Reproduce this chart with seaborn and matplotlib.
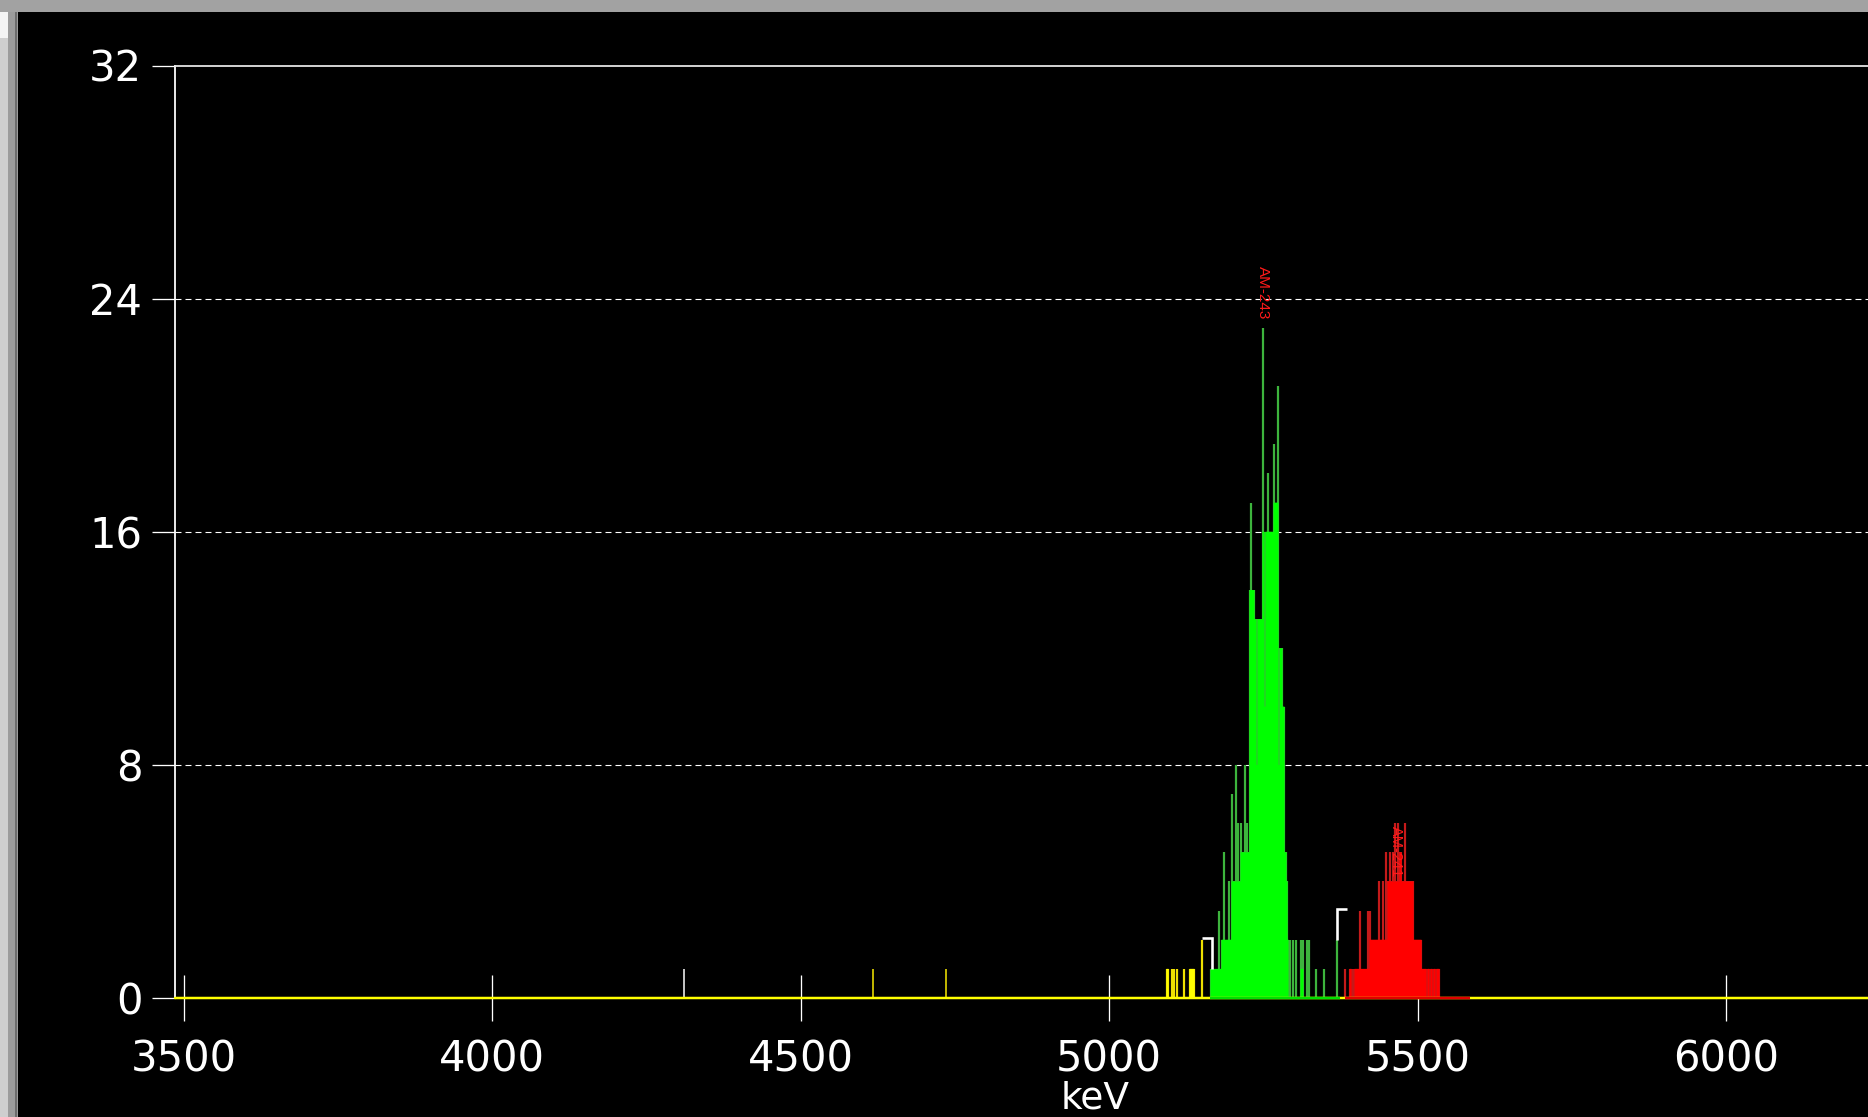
import numpy as np
import pandas as pd
import matplotlib
matplotlib.use("Agg")
import matplotlib.pyplot as plt
from matplotlib.patches import Rectangle
import seaborn as sns

# ---------------- data ----------------
spectrum_start_kev = 5090.5      # energy of first listed channel
kev_per_channel = 1.6205         # channel width
channel_counts = [
    0, 0, 1, 1, 0, 0, 0, 1, 0, 1, 0, 0, 1, 0, 0, 0, 0, 0, 0, 1,
    0, 0, 0, 0, 0, 1, 1, 1, 1, 1, 0, 0, 0, 0, 0, 0, 0, 2, 0, 0,
    0, 0, 0, 0, 0, 0, 1, 1, 1, 1, 1, 1, 1, 1, 3, 1, 1, 2, 2, 5,
    2, 2, 2, 2, 4, 2, 2, 7, 4, 4, 4, 8, 4, 6, 4, 4, 6, 5, 5, 5,
    8, 5, 6, 5, 5, 14, 17, 14, 14, 14, 13, 13, 8, 13, 13, 13, 13, 13, 23, 16,
    10, 16, 16, 18, 16, 16, 16, 16, 16, 19, 17, 17, 17, 21, 8, 12, 12, 12, 10, 10,
    5, 5, 4, 2, 0, 2, 0, 0, 2, 0, 0, 2, 0, 0, 0, 0, 2, 1, 2, 0,
    0, 0, 2, 0, 2, 0, 0, 0, 0, 0, 0, 1, 0, 0, 0, 0, 0, 0, 0, 1,
    0, 0, 0, 0, 0, 0, 0, 0, 0, 0, 0, 0, 2, 0, 0, 0, 0, 0, 0, 0,
    1, 0, 0, 0, 0, 1, 1, 0, 1, 0, 1, 1, 1, 1, 1, 3, 1, 1, 1, 1,
    1, 1, 1, 3, 1, 3, 2, 2, 2, 2, 2, 2, 2, 2, 4, 2, 2, 2, 4, 2,
    2, 5, 2, 4, 4, 5, 4, 4, 5, 4, 6, 4, 4, 6, 4, 5, 5, 4, 4, 4,
    6, 4, 4, 4, 4, 4, 4, 4, 4, 2, 2, 2, 2, 2, 2, 2, 2, 1, 1, 1,
    1, 1, 0, 1, 1, 0, 1, 1, 0, 1, 1, 0, 1, 1, 1, 0, 0, 0, 0, 0,
]
green_roi_kev = [5163.4, 5374.1]
red_roi_kev = [5381.5, 5584.7]

extra_line_kev = [4310.7, 4617.6, 4735.5]
extra_line_counts = [1, 1, 1]
extra_line_kind = ["marker", "yellow", "yellow"]

roi_marker_kev = [5166.7, 5370.0]
roi_marker_base = [1.0, 2.0]
roi_marker_side = [-1, 1]

peak_names = ["AM-243", "AM-241"]
peak_kev = [5250.0, 5464.8]
peak_text_y = [23.3, 5.9]
peak_text_va = ["bottom", "top"]
peak_text_size = [11, 10.5]

x_ticks = [3500, 4000, 4500, 5000, 5500, 6000]
y_ticks = [0, 8, 16, 24, 32]
x_range = [3486.2, 6229.7]
y_range = [0, 32]
x_label = "keV"

# ---------------- style ----------------
sns.set_theme(style="ticks", rc={
    "axes.facecolor": "black",
    "figure.facecolor": "black",
    "axes.edgecolor": "white",
    "text.color": "white",
    "xtick.color": "white",
    "ytick.color": "white",
    "lines.scale_dashes": False,
})
plt.rcParams["font.family"] = ["DejaVu Sans"]

W, H = 1868, 1117
PX = 72.0 / 100.0
fig = plt.figure(figsize=(W / 100, H / 100), dpi=100)
fig.patch.set_facecolor("black")
ax = fig.add_axes([175 / W, 119 / H, 1 - 175 / W, 932.5 / H])
ax.set_facecolor("black")

# ---------------- spectrum ----------------
energies = spectrum_start_kev + kev_per_channel * np.arange(len(channel_counts))
counts = np.asarray(channel_counts, dtype=float)
prev_c = np.r_[0.0, counts[:-1]]
next_c = np.r_[counts[1:], 0.0]
supported = np.maximum(np.minimum(prev_c, counts), np.minimum(counts, next_c))

region = np.full(len(counts), "yellow", dtype=object)
region[(energies >= green_roi_kev[0]) & (energies <= green_roi_kev[1])] = "green"
region[(energies >= red_roi_kev[0]) & (energies <= red_roi_kev[1])] = "red"
df = pd.DataFrame({"kev": energies, "counts": counts,
                   "supported": supported, "region": region})

fill_colors = {"yellow": "#ffff00", "green": "#00ff00", "red": "#ff0000"}
line_colors = {"yellow": "#eee000", "green": "#3db43d", "red": "#c41a1a"}

for name in ["yellow", "green", "red"]:
    sub = df[(df.region == name) & (df.counts > 0)]
    if len(sub):
        ax.vlines(sub.kev, 0, sub.counts, colors=line_colors[name],
                  linewidth=2.2 * PX, zorder=2)
    w = np.where(df.region == name, df.supported, 0.0)
    if w.sum() > 0:
        ax.fill_between(df.kev, 0, w, step="mid", facecolor=fill_colors[name],
                        edgecolor="none", linewidth=0, zorder=3)

for kev, cnt, kind in zip(extra_line_kev, extra_line_counts, extra_line_kind):
    col = "#f2f2f2" if kind == "marker" else line_colors["yellow"]
    ax.vlines(kev, 0, cnt, colors=col, linewidth=1.6 * PX, zorder=2)

# baseline (zero level of spectrum, coloured by ROI)
base_df = pd.DataFrame({"kev": [x_range[0], x_range[1]], "c": [0, 0]})
sns.lineplot(data=base_df, x="kev", y="c", color="#ffff00",
             linewidth=2.5 * PX, zorder=5, clip_on=False, ax=ax)
ax.hlines(0, green_roi_kev[0], green_roi_kev[1], color="#00e000",
          linewidth=2.5 * PX, zorder=5, clip_on=False)
ax.hlines(0, red_roi_kev[0], red_roi_kev[1], color="#e00000",
          linewidth=2.5 * PX, zorder=5, clip_on=False)

# ROI markers
arm, rise = 16.0, 1.07
for kev, base, side in zip(roi_marker_kev, roi_marker_base, roi_marker_side):
    ax.plot([kev + side * arm, kev, kev], [base + rise, base + rise, base],
            color="white", lw=2.6 * PX, solid_capstyle="butt",
            solid_joinstyle="miter", zorder=6)

# peak labels
for name, kev, yy, va, fs in zip(peak_names, peak_kev, peak_text_y,
                                 peak_text_va, peak_text_size):
    ax.text(kev, yy, name, rotation=270, ha="center", va=va, color="#ff1a1a",
            fontsize=fs, family=["Liberation Sans Narrow", "Liberation Sans"],
            zorder=6)

# ---------------- axes ----------------
ax.set_xlim(x_range)
ax.set_ylim(y_range)
ax.set_xticks(x_ticks)
ax.set_xticklabels([str(t) for t in x_ticks])
ax.set_yticks(y_ticks)
ax.set_yticklabels([str(t) for t in y_ticks])
ax.tick_params(axis="x", direction="inout", length=47 * PX, width=1.3 * PX,
               colors="white", labelsize=30, pad=12, bottom=True, top=False)
ax.tick_params(axis="y", direction="out", length=23 * PX, width=1.3 * PX,
               colors="white", labelsize=30, pad=7, left=True, right=False)
ax.set_axisbelow(True)
ax.grid(False)
for yv in y_ticks:
    if y_range[0] < yv < y_range[1]:
        ax.axhline(yv, color="white", linestyle=(0, (4.3, 2.9)),
                   linewidth=1.1 * PX, zorder=1)

for s in ["right", "bottom"]:
    ax.spines[s].set_visible(False)
ax.spines["left"].set_visible(True)
ax.spines["left"].set_color("white")
ax.spines["left"].set_linewidth(1.8 * PX)
ax.spines["top"].set_visible(True)
ax.spines["top"].set_color("#e6e6e6")
ax.spines["top"].set_linewidth(1.8 * PX)

ax.set_ylabel("")
ax.set_xlabel(x_label, fontsize=27, color="white")
ax.xaxis.set_label_coords(0.5434, -0.1083)
ax.xaxis.label.set_verticalalignment("center")

# window frame
fig.add_artist(Rectangle((0, 0), 8 / W, 1, transform=fig.transFigure,
                         facecolor="#cfcfcf", edgecolor="none", zorder=10))
fig.add_artist(Rectangle((8 / W, 0), 10 / W, 1, transform=fig.transFigure,
                         facecolor="#9c9c9c", edgecolor="none", zorder=10))
fig.add_artist(Rectangle((15 / W, 0), 2 / W, 1 - 12 / H, transform=fig.transFigure,
                         facecolor="#6c6c6c", edgecolor="none", zorder=11))
fig.add_artist(Rectangle((0, 1 - 12 / H), 1, 12 / H, transform=fig.transFigure,
                         facecolor="#a2a2a2", edgecolor="none", zorder=10))
fig.add_artist(Rectangle((0, 1 - 38 / H), 8 / W, 26 / H, transform=fig.transFigure,
                         facecolor="#f4f4f4", edgecolor="none", zorder=11))

fig.savefig("out.png", dpi=100, facecolor="black")
